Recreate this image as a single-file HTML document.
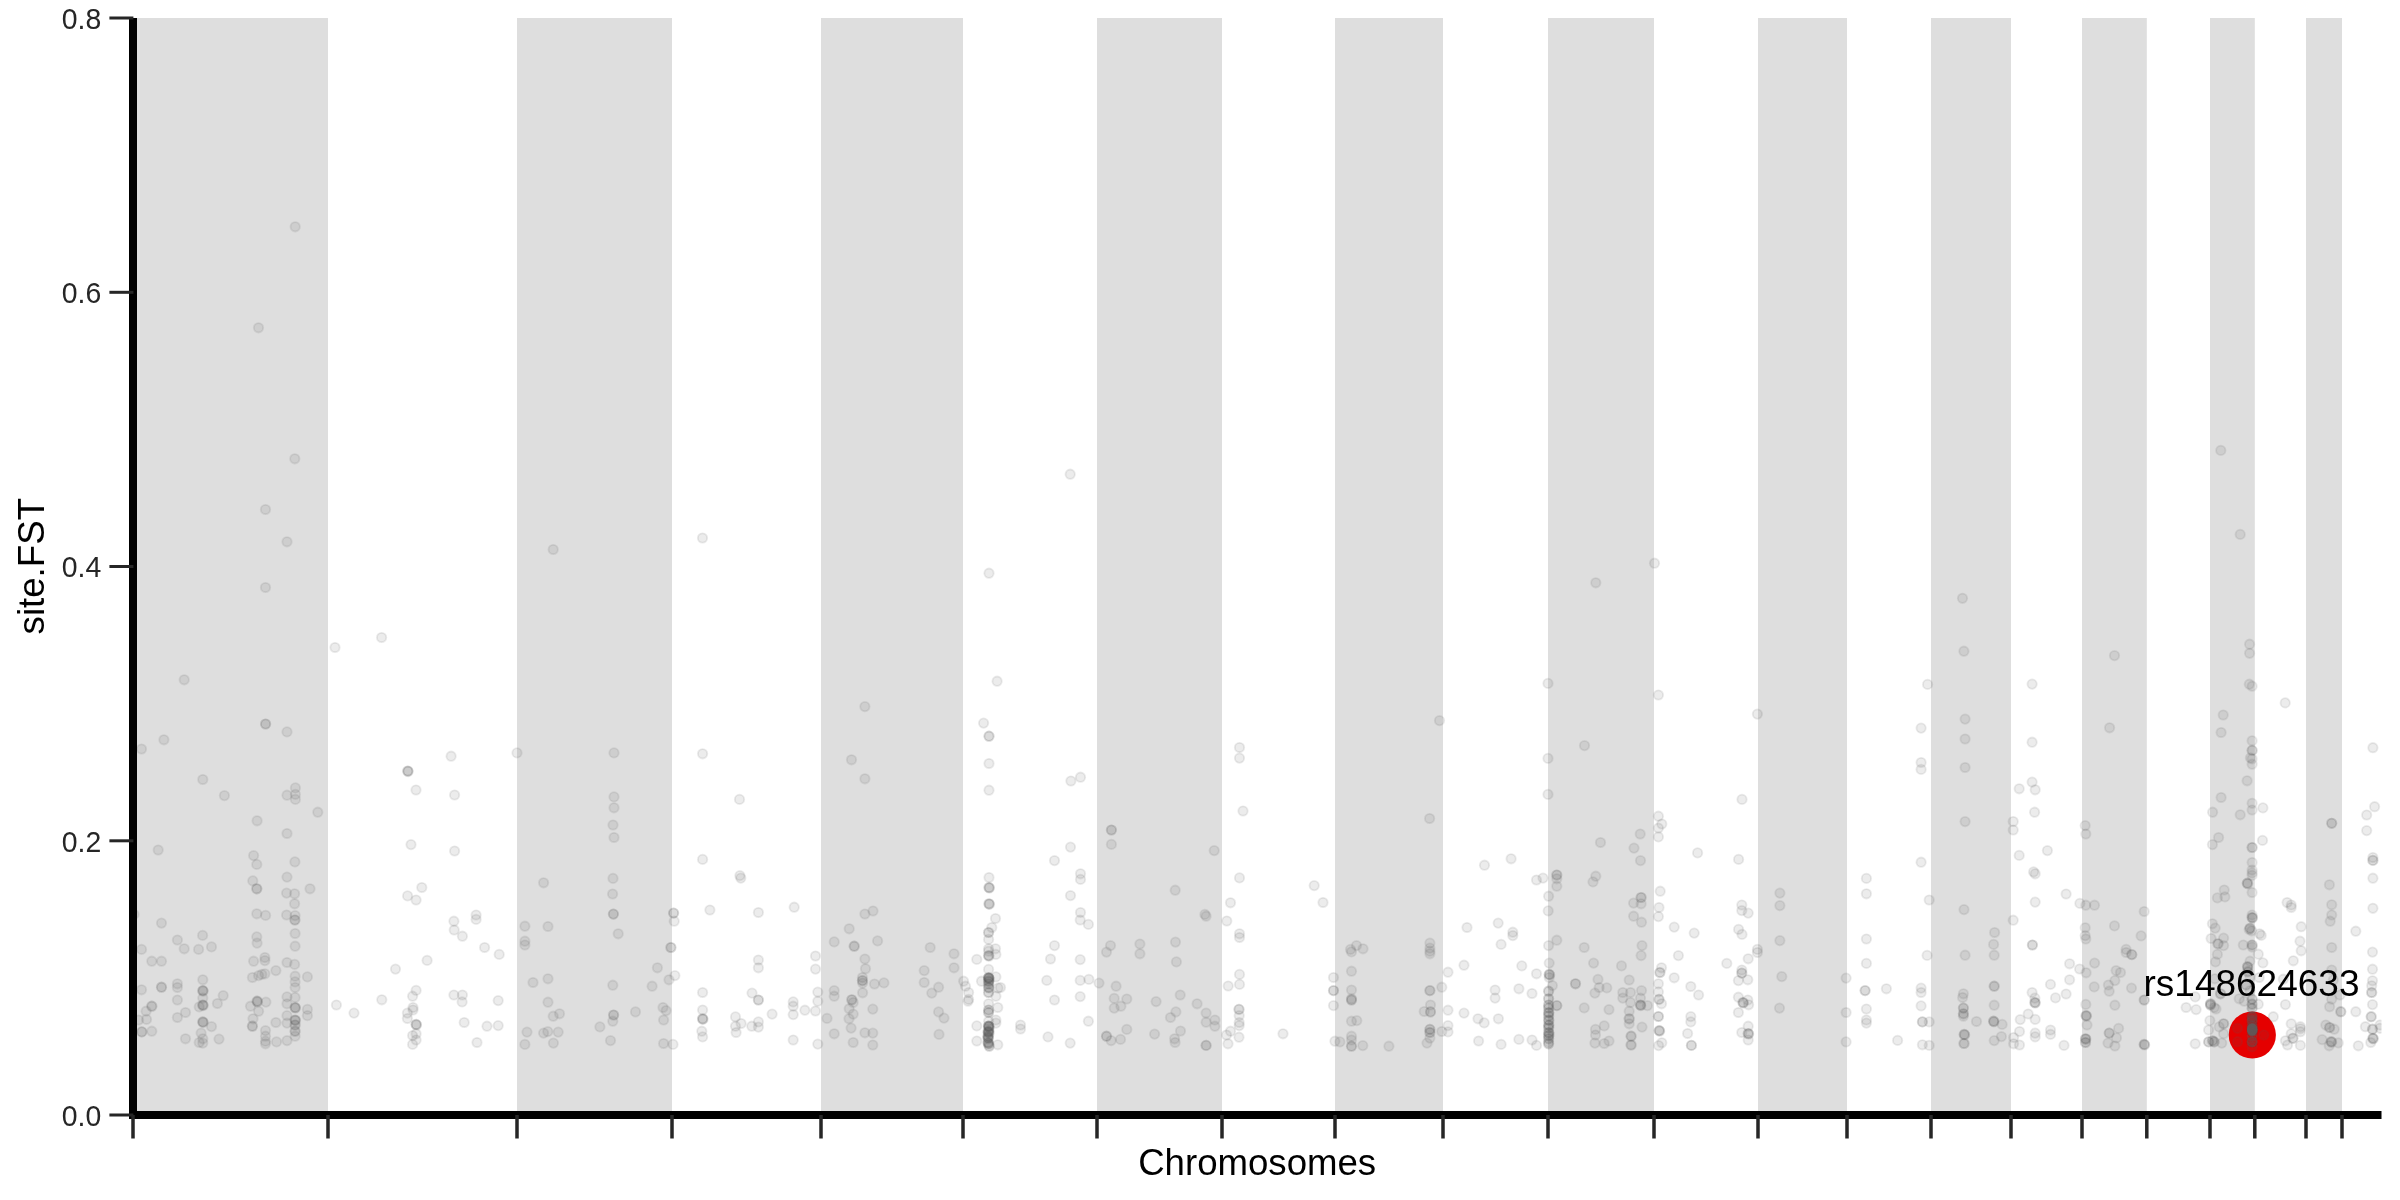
<!DOCTYPE html>
<html><head><meta charset="utf-8"><style>
html,body{margin:0;padding:0;background:#fff;width:2400px;height:1200px;overflow:hidden}
svg{display:block;font-family:"Liberation Sans",sans-serif;will-change:transform}
</style></head><body>
<svg width="2400" height="1200" viewBox="0 0 2400 1200">
<rect x="0" y="0" width="2400" height="1200" fill="#fff"/>
<rect x="133" y="18" width="195.0" height="1097" fill="#dedede"/>
<rect x="517" y="18" width="155.0" height="1097" fill="#dedede"/>
<rect x="821" y="18" width="142.0" height="1097" fill="#dedede"/>
<rect x="1097" y="18" width="125.0" height="1097" fill="#dedede"/>
<rect x="1335" y="18" width="108.0" height="1097" fill="#dedede"/>
<rect x="1548" y="18" width="106.0" height="1097" fill="#dedede"/>
<rect x="1758" y="18" width="89.0" height="1097" fill="#dedede"/>
<rect x="1931" y="18" width="80.0" height="1097" fill="#dedede"/>
<rect x="2082" y="18" width="64.8" height="1097" fill="#dedede"/>
<rect x="2210" y="18" width="44.8" height="1097" fill="#dedede"/>
<rect x="2306" y="18" width="36.0" height="1097" fill="#dedede"/>
<circle cx="2252.3" cy="1035" r="23.6" fill="#e50000"/>
<clipPath id="c"><rect x="129" y="0" width="2252.5" height="1200"/></clipPath>
<g clip-path="url(#c)" fill="rgba(90,90,90,0.115)" stroke="rgba(90,90,90,0.12)" stroke-width="1.8"><circle cx="295.2" cy="226.8" r="4.7"/><circle cx="258.5" cy="327.8" r="4.7"/><circle cx="294.8" cy="458.8" r="4.7"/><circle cx="265.5" cy="509.5" r="4.7"/><circle cx="287.0" cy="541.8" r="4.7"/><circle cx="265.5" cy="587.5" r="4.7"/><circle cx="335.0" cy="647.5" r="4.7"/><circle cx="381.6" cy="637.5" r="4.7"/><circle cx="553.2" cy="549.5" r="4.7"/><circle cx="702.5" cy="538.0" r="4.7"/><circle cx="1070.2" cy="474.2" r="4.7"/><circle cx="989.0" cy="573.2" r="4.7"/><circle cx="1595.8" cy="582.8" r="4.7"/><circle cx="1654.5" cy="563.2" r="4.7"/><circle cx="2220.8" cy="450.4" r="4.7"/><circle cx="2240.2" cy="534.4" r="4.7"/><circle cx="1962.5" cy="598.3" r="4.7"/><circle cx="184.2" cy="679.8" r="4.7"/><circle cx="265.6" cy="724.0" r="4.7"/><circle cx="265.6" cy="724.0" r="4.7"/><circle cx="287.0" cy="731.9" r="4.7"/><circle cx="163.9" cy="739.8" r="4.7"/><circle cx="141.5" cy="749.0" r="4.7"/><circle cx="202.8" cy="779.5" r="4.7"/><circle cx="224.4" cy="795.6" r="4.7"/><circle cx="295.4" cy="787.9" r="4.7"/><circle cx="287.0" cy="795.2" r="4.7"/><circle cx="295.4" cy="794.4" r="4.7"/><circle cx="295.4" cy="799.4" r="4.7"/><circle cx="407.8" cy="771.0" r="4.7"/><circle cx="407.8" cy="771.0" r="4.7"/><circle cx="408.1" cy="771.6" r="4.7"/><circle cx="416.0" cy="790.0" r="4.7"/><circle cx="317.8" cy="812.2" r="4.7"/><circle cx="257.1" cy="820.8" r="4.7"/><circle cx="287.0" cy="833.5" r="4.7"/><circle cx="158.2" cy="850.0" r="4.7"/><circle cx="253.6" cy="855.6" r="4.7"/><circle cx="256.8" cy="864.4" r="4.7"/><circle cx="294.9" cy="861.9" r="4.7"/><circle cx="287.0" cy="877.1" r="4.7"/><circle cx="252.8" cy="880.9" r="4.7"/><circle cx="256.8" cy="888.8" r="4.7"/><circle cx="256.8" cy="888.8" r="4.7"/><circle cx="286.6" cy="893.1" r="4.7"/><circle cx="294.6" cy="893.8" r="4.7"/><circle cx="310.0" cy="888.8" r="4.7"/><circle cx="294.6" cy="903.8" r="4.7"/><circle cx="256.8" cy="913.8" r="4.7"/><circle cx="265.6" cy="915.4" r="4.7"/><circle cx="286.6" cy="915.0" r="4.7"/><circle cx="295.1" cy="915.6" r="4.7"/><circle cx="294.9" cy="920.0" r="4.7"/><circle cx="294.9" cy="920.0" r="4.7"/><circle cx="295.1" cy="933.5" r="4.7"/><circle cx="256.8" cy="936.9" r="4.7"/><circle cx="257.1" cy="943.1" r="4.7"/><circle cx="295.1" cy="946.2" r="4.7"/><circle cx="161.5" cy="923.1" r="4.7"/><circle cx="177.4" cy="940.0" r="4.7"/><circle cx="202.6" cy="935.4" r="4.7"/><circle cx="184.2" cy="948.8" r="4.7"/><circle cx="198.6" cy="949.4" r="4.7"/><circle cx="211.5" cy="946.9" r="4.7"/><circle cx="141.5" cy="949.4" r="4.7"/><circle cx="134.0" cy="914.4" r="4.7"/><circle cx="411.0" cy="844.6" r="4.7"/><circle cx="421.8" cy="887.5" r="4.7"/><circle cx="407.6" cy="895.9" r="4.7"/><circle cx="416.1" cy="900.0" r="4.7"/><circle cx="151.8" cy="961.2" r="4.7"/><circle cx="161.5" cy="961.2" r="4.7"/><circle cx="253.6" cy="961.2" r="4.7"/><circle cx="264.9" cy="957.5" r="4.7"/><circle cx="264.9" cy="960.6" r="4.7"/><circle cx="287.0" cy="962.5" r="4.7"/><circle cx="294.6" cy="964.4" r="4.7"/><circle cx="275.9" cy="970.6" r="4.7"/><circle cx="252.4" cy="977.5" r="4.7"/><circle cx="258.6" cy="975.6" r="4.7"/><circle cx="261.8" cy="974.4" r="4.7"/><circle cx="264.9" cy="973.8" r="4.7"/><circle cx="295.1" cy="976.2" r="4.7"/><circle cx="295.1" cy="981.9" r="4.7"/><circle cx="295.1" cy="987.5" r="4.7"/><circle cx="307.4" cy="976.9" r="4.7"/><circle cx="202.8" cy="979.8" r="4.7"/><circle cx="177.4" cy="983.8" r="4.7"/><circle cx="177.4" cy="987.5" r="4.7"/><circle cx="161.5" cy="987.2" r="4.7"/><circle cx="161.5" cy="987.2" r="4.7"/><circle cx="141.5" cy="989.8" r="4.7"/><circle cx="202.8" cy="990.6" r="4.7"/><circle cx="202.8" cy="990.6" r="4.7"/><circle cx="203.2" cy="991.2" r="4.7"/><circle cx="202.8" cy="998.1" r="4.7"/><circle cx="223.2" cy="995.6" r="4.7"/><circle cx="217.4" cy="1003.5" r="4.7"/><circle cx="177.4" cy="1000.0" r="4.7"/><circle cx="151.8" cy="1006.2" r="4.7"/><circle cx="151.8" cy="1006.2" r="4.7"/><circle cx="146.1" cy="1011.2" r="4.7"/><circle cx="146.5" cy="1019.4" r="4.7"/><circle cx="138.6" cy="1020.0" r="4.7"/><circle cx="141.8" cy="1031.9" r="4.7"/><circle cx="141.8" cy="1031.9" r="4.7"/><circle cx="151.8" cy="1031.2" r="4.7"/><circle cx="185.5" cy="1012.5" r="4.7"/><circle cx="177.4" cy="1017.5" r="4.7"/><circle cx="199.2" cy="1006.9" r="4.7"/><circle cx="202.8" cy="1005.0" r="4.7"/><circle cx="202.8" cy="1005.0" r="4.7"/><circle cx="203.2" cy="1005.6" r="4.7"/><circle cx="202.8" cy="1021.9" r="4.7"/><circle cx="202.8" cy="1021.9" r="4.7"/><circle cx="203.2" cy="1022.5" r="4.7"/><circle cx="211.5" cy="1026.6" r="4.7"/><circle cx="201.1" cy="1033.1" r="4.7"/><circle cx="202.8" cy="1038.8" r="4.7"/><circle cx="199.2" cy="1042.5" r="4.7"/><circle cx="202.8" cy="1043.1" r="4.7"/><circle cx="185.5" cy="1038.8" r="4.7"/><circle cx="219.0" cy="1039.1" r="4.7"/><circle cx="257.1" cy="1001.2" r="4.7"/><circle cx="257.1" cy="1001.2" r="4.7"/><circle cx="257.5" cy="1001.9" r="4.7"/><circle cx="250.5" cy="1006.2" r="4.7"/><circle cx="265.9" cy="1002.1" r="4.7"/><circle cx="258.6" cy="1011.2" r="4.7"/><circle cx="253.0" cy="1018.8" r="4.7"/><circle cx="252.4" cy="1026.2" r="4.7"/><circle cx="252.4" cy="1026.2" r="4.7"/><circle cx="275.9" cy="1022.5" r="4.7"/><circle cx="265.5" cy="1030.6" r="4.7"/><circle cx="265.5" cy="1036.2" r="4.7"/><circle cx="265.5" cy="1041.2" r="4.7"/><circle cx="265.5" cy="1043.8" r="4.7"/><circle cx="276.5" cy="1041.9" r="4.7"/><circle cx="287.0" cy="1040.6" r="4.7"/><circle cx="287.0" cy="996.9" r="4.7"/><circle cx="287.0" cy="1003.8" r="4.7"/><circle cx="287.0" cy="1015.6" r="4.7"/><circle cx="287.0" cy="1023.1" r="4.7"/><circle cx="295.1" cy="997.5" r="4.7"/><circle cx="295.1" cy="1007.5" r="4.7"/><circle cx="295.1" cy="1007.5" r="4.7"/><circle cx="295.5" cy="1008.1" r="4.7"/><circle cx="295.1" cy="1020.0" r="4.7"/><circle cx="295.1" cy="1020.0" r="4.7"/><circle cx="295.5" cy="1020.6" r="4.7"/><circle cx="295.1" cy="1025.0" r="4.7"/><circle cx="295.1" cy="1025.0" r="4.7"/><circle cx="295.1" cy="1031.2" r="4.7"/><circle cx="295.1" cy="1031.2" r="4.7"/><circle cx="295.1" cy="1036.2" r="4.7"/><circle cx="307.4" cy="1009.4" r="4.7"/><circle cx="307.4" cy="1015.6" r="4.7"/><circle cx="427.1" cy="960.4" r="4.7"/><circle cx="395.5" cy="969.1" r="4.7"/><circle cx="381.8" cy="999.8" r="4.7"/><circle cx="336.4" cy="1005.0" r="4.7"/><circle cx="354.0" cy="1013.1" r="4.7"/><circle cx="416.1" cy="990.4" r="4.7"/><circle cx="412.6" cy="996.2" r="4.7"/><circle cx="413.0" cy="1007.5" r="4.7"/><circle cx="413.0" cy="1010.0" r="4.7"/><circle cx="407.4" cy="1013.1" r="4.7"/><circle cx="407.4" cy="1018.5" r="4.7"/><circle cx="416.1" cy="1024.4" r="4.7"/><circle cx="416.1" cy="1024.4" r="4.7"/><circle cx="416.5" cy="1025.0" r="4.7"/><circle cx="412.6" cy="1035.6" r="4.7"/><circle cx="416.1" cy="1033.8" r="4.7"/><circle cx="416.1" cy="1040.0" r="4.7"/><circle cx="412.6" cy="1044.4" r="4.7"/><circle cx="451.1" cy="756.2" r="4.7"/><circle cx="517.0" cy="752.9" r="4.7"/><circle cx="614.0" cy="752.9" r="4.7"/><circle cx="702.6" cy="753.8" r="4.7"/><circle cx="454.6" cy="795.0" r="4.7"/><circle cx="614.0" cy="796.9" r="4.7"/><circle cx="614.0" cy="807.8" r="4.7"/><circle cx="613.0" cy="825.0" r="4.7"/><circle cx="614.0" cy="837.5" r="4.7"/><circle cx="454.6" cy="851.0" r="4.7"/><circle cx="702.6" cy="859.4" r="4.7"/><circle cx="543.6" cy="882.8" r="4.7"/><circle cx="613.0" cy="878.4" r="4.7"/><circle cx="612.6" cy="894.0" r="4.7"/><circle cx="613.4" cy="914.1" r="4.7"/><circle cx="613.4" cy="914.1" r="4.7"/><circle cx="453.9" cy="921.2" r="4.7"/><circle cx="476.1" cy="915.0" r="4.7"/><circle cx="476.1" cy="919.4" r="4.7"/><circle cx="454.2" cy="930.0" r="4.7"/><circle cx="462.4" cy="936.2" r="4.7"/><circle cx="484.6" cy="947.5" r="4.7"/><circle cx="524.9" cy="926.2" r="4.7"/><circle cx="548.0" cy="926.5" r="4.7"/><circle cx="524.9" cy="941.2" r="4.7"/><circle cx="524.9" cy="945.0" r="4.7"/><circle cx="618.2" cy="933.8" r="4.7"/><circle cx="673.6" cy="913.1" r="4.7"/><circle cx="673.6" cy="913.1" r="4.7"/><circle cx="674.2" cy="921.2" r="4.7"/><circle cx="709.9" cy="910.0" r="4.7"/><circle cx="670.9" cy="947.5" r="4.7"/><circle cx="670.9" cy="947.5" r="4.7"/><circle cx="499.2" cy="954.4" r="4.7"/><circle cx="657.4" cy="967.8" r="4.7"/><circle cx="674.9" cy="975.6" r="4.7"/><circle cx="669.0" cy="979.8" r="4.7"/><circle cx="652.1" cy="986.2" r="4.7"/><circle cx="612.8" cy="985.2" r="4.7"/><circle cx="548.0" cy="978.8" r="4.7"/><circle cx="533.0" cy="982.5" r="4.7"/><circle cx="453.9" cy="995.0" r="4.7"/><circle cx="462.4" cy="995.0" r="4.7"/><circle cx="462.1" cy="1001.9" r="4.7"/><circle cx="498.2" cy="1000.6" r="4.7"/><circle cx="548.0" cy="1002.2" r="4.7"/><circle cx="559.5" cy="1013.8" r="4.7"/><circle cx="553.2" cy="1016.2" r="4.7"/><circle cx="613.6" cy="1015.0" r="4.7"/><circle cx="613.6" cy="1015.0" r="4.7"/><circle cx="612.8" cy="1021.2" r="4.7"/><circle cx="635.5" cy="1011.9" r="4.7"/><circle cx="663.0" cy="1007.5" r="4.7"/><circle cx="666.1" cy="1010.6" r="4.7"/><circle cx="663.6" cy="1020.0" r="4.7"/><circle cx="702.6" cy="992.5" r="4.7"/><circle cx="702.6" cy="1010.0" r="4.7"/><circle cx="702.6" cy="1018.8" r="4.7"/><circle cx="702.6" cy="1018.8" r="4.7"/><circle cx="703.0" cy="1019.4" r="4.7"/><circle cx="701.8" cy="1031.2" r="4.7"/><circle cx="702.6" cy="1036.9" r="4.7"/><circle cx="464.2" cy="1022.5" r="4.7"/><circle cx="487.0" cy="1026.2" r="4.7"/><circle cx="498.2" cy="1025.6" r="4.7"/><circle cx="477.0" cy="1042.5" r="4.7"/><circle cx="527.0" cy="1032.1" r="4.7"/><circle cx="543.6" cy="1033.1" r="4.7"/><circle cx="547.8" cy="1031.6" r="4.7"/><circle cx="558.2" cy="1032.1" r="4.7"/><circle cx="524.9" cy="1044.4" r="4.7"/><circle cx="553.4" cy="1043.1" r="4.7"/><circle cx="599.9" cy="1026.9" r="4.7"/><circle cx="610.5" cy="1040.6" r="4.7"/><circle cx="663.6" cy="1043.5" r="4.7"/><circle cx="673.0" cy="1044.4" r="4.7"/><circle cx="997.1" cy="681.2" r="4.7"/><circle cx="864.9" cy="706.6" r="4.7"/><circle cx="983.6" cy="723.1" r="4.7"/><circle cx="989.0" cy="736.2" r="4.7"/><circle cx="989.0" cy="736.2" r="4.7"/><circle cx="851.5" cy="759.8" r="4.7"/><circle cx="864.9" cy="778.8" r="4.7"/><circle cx="989.0" cy="763.5" r="4.7"/><circle cx="989.0" cy="790.2" r="4.7"/><circle cx="739.5" cy="799.4" r="4.7"/><circle cx="739.9" cy="875.6" r="4.7"/><circle cx="740.8" cy="878.1" r="4.7"/><circle cx="758.4" cy="912.5" r="4.7"/><circle cx="794.2" cy="907.2" r="4.7"/><circle cx="864.9" cy="914.0" r="4.7"/><circle cx="873.0" cy="911.0" r="4.7"/><circle cx="849.2" cy="928.8" r="4.7"/><circle cx="834.2" cy="941.9" r="4.7"/><circle cx="854.2" cy="946.2" r="4.7"/><circle cx="854.2" cy="946.2" r="4.7"/><circle cx="877.6" cy="940.9" r="4.7"/><circle cx="930.2" cy="947.5" r="4.7"/><circle cx="989.0" cy="877.5" r="4.7"/><circle cx="989.0" cy="887.5" r="4.7"/><circle cx="989.0" cy="887.5" r="4.7"/><circle cx="989.4" cy="888.1" r="4.7"/><circle cx="989.0" cy="903.8" r="4.7"/><circle cx="989.0" cy="903.8" r="4.7"/><circle cx="989.4" cy="904.4" r="4.7"/><circle cx="995.5" cy="918.5" r="4.7"/><circle cx="991.8" cy="927.5" r="4.7"/><circle cx="988.6" cy="932.5" r="4.7"/><circle cx="988.6" cy="932.5" r="4.7"/><circle cx="988.6" cy="939.4" r="4.7"/><circle cx="988.6" cy="948.8" r="4.7"/><circle cx="995.5" cy="948.8" r="4.7"/><circle cx="954.0" cy="953.8" r="4.7"/><circle cx="954.0" cy="967.8" r="4.7"/><circle cx="864.9" cy="959.0" r="4.7"/><circle cx="865.5" cy="968.8" r="4.7"/><circle cx="862.4" cy="977.5" r="4.7"/><circle cx="862.4" cy="980.6" r="4.7"/><circle cx="862.4" cy="980.6" r="4.7"/><circle cx="862.6" cy="983.1" r="4.7"/><circle cx="874.5" cy="984.0" r="4.7"/><circle cx="883.9" cy="982.9" r="4.7"/><circle cx="862.6" cy="992.8" r="4.7"/><circle cx="924.2" cy="970.6" r="4.7"/><circle cx="924.2" cy="982.5" r="4.7"/><circle cx="938.6" cy="987.2" r="4.7"/><circle cx="931.8" cy="993.1" r="4.7"/><circle cx="834.2" cy="990.6" r="4.7"/><circle cx="834.2" cy="996.2" r="4.7"/><circle cx="851.8" cy="999.8" r="4.7"/><circle cx="851.8" cy="999.8" r="4.7"/><circle cx="853.2" cy="1002.5" r="4.7"/><circle cx="849.2" cy="1008.8" r="4.7"/><circle cx="853.2" cy="1014.1" r="4.7"/><circle cx="849.0" cy="1018.8" r="4.7"/><circle cx="827.0" cy="1018.4" r="4.7"/><circle cx="851.1" cy="1028.1" r="4.7"/><circle cx="834.2" cy="1033.8" r="4.7"/><circle cx="853.2" cy="1042.5" r="4.7"/><circle cx="864.9" cy="1032.8" r="4.7"/><circle cx="872.8" cy="1033.1" r="4.7"/><circle cx="872.8" cy="1045.0" r="4.7"/><circle cx="872.8" cy="1009.1" r="4.7"/><circle cx="938.6" cy="1011.9" r="4.7"/><circle cx="944.0" cy="1018.1" r="4.7"/><circle cx="939.0" cy="1034.4" r="4.7"/><circle cx="758.4" cy="960.0" r="4.7"/><circle cx="758.4" cy="967.8" r="4.7"/><circle cx="815.5" cy="956.0" r="4.7"/><circle cx="815.5" cy="969.1" r="4.7"/><circle cx="752.0" cy="993.1" r="4.7"/><circle cx="758.4" cy="1000.0" r="4.7"/><circle cx="758.4" cy="1000.0" r="4.7"/><circle cx="793.2" cy="1001.9" r="4.7"/><circle cx="793.2" cy="1006.2" r="4.7"/><circle cx="793.2" cy="1014.6" r="4.7"/><circle cx="804.9" cy="1010.2" r="4.7"/><circle cx="815.5" cy="1011.0" r="4.7"/><circle cx="817.8" cy="992.1" r="4.7"/><circle cx="817.8" cy="1001.2" r="4.7"/><circle cx="772.1" cy="1014.1" r="4.7"/><circle cx="735.5" cy="1016.9" r="4.7"/><circle cx="741.1" cy="1023.5" r="4.7"/><circle cx="735.5" cy="1026.2" r="4.7"/><circle cx="736.1" cy="1032.5" r="4.7"/><circle cx="751.8" cy="1026.2" r="4.7"/><circle cx="758.4" cy="1021.9" r="4.7"/><circle cx="758.4" cy="1027.1" r="4.7"/><circle cx="793.2" cy="1040.0" r="4.7"/><circle cx="817.8" cy="1044.1" r="4.7"/><circle cx="988.6" cy="951.2" r="4.7"/><circle cx="988.6" cy="955.6" r="4.7"/><circle cx="988.6" cy="955.6" r="4.7"/><circle cx="989.0" cy="956.2" r="4.7"/><circle cx="995.9" cy="954.4" r="4.7"/><circle cx="976.8" cy="959.4" r="4.7"/><circle cx="988.6" cy="969.4" r="4.7"/><circle cx="988.6" cy="977.5" r="4.7"/><circle cx="988.6" cy="977.5" r="4.7"/><circle cx="989.0" cy="978.1" r="4.7"/><circle cx="989.1" cy="979.7" r="4.7"/><circle cx="988.6" cy="981.2" r="4.7"/><circle cx="988.6" cy="981.2" r="4.7"/><circle cx="989.0" cy="981.9" r="4.7"/><circle cx="995.9" cy="976.9" r="4.7"/><circle cx="981.5" cy="981.2" r="4.7"/><circle cx="988.6" cy="987.5" r="4.7"/><circle cx="988.6" cy="987.5" r="4.7"/><circle cx="989.0" cy="988.1" r="4.7"/><circle cx="988.6" cy="992.5" r="4.7"/><circle cx="988.6" cy="992.5" r="4.7"/><circle cx="998.0" cy="988.1" r="4.7"/><circle cx="1000.5" cy="987.5" r="4.7"/><circle cx="995.9" cy="996.2" r="4.7"/><circle cx="963.6" cy="981.2" r="4.7"/><circle cx="965.5" cy="986.2" r="4.7"/><circle cx="968.6" cy="992.5" r="4.7"/><circle cx="968.6" cy="999.4" r="4.7"/><circle cx="968.0" cy="1001.2" r="4.7"/><circle cx="988.6" cy="1003.8" r="4.7"/><circle cx="988.6" cy="1010.0" r="4.7"/><circle cx="988.6" cy="1010.0" r="4.7"/><circle cx="988.6" cy="1012.5" r="4.7"/><circle cx="988.6" cy="1012.5" r="4.7"/><circle cx="997.8" cy="1007.5" r="4.7"/><circle cx="988.6" cy="1021.2" r="4.7"/><circle cx="995.9" cy="1020.0" r="4.7"/><circle cx="995.9" cy="1023.1" r="4.7"/><circle cx="988.6" cy="1026.2" r="4.7"/><circle cx="988.6" cy="1026.2" r="4.7"/><circle cx="989.0" cy="1026.8" r="4.7"/><circle cx="989.1" cy="1028.5" r="4.7"/><circle cx="988.6" cy="1031.2" r="4.7"/><circle cx="988.6" cy="1031.2" r="4.7"/><circle cx="989.0" cy="1031.8" r="4.7"/><circle cx="989.1" cy="1033.5" r="4.7"/><circle cx="988.0" cy="1036.2" r="4.7"/><circle cx="988.0" cy="1036.2" r="4.7"/><circle cx="988.4" cy="1036.8" r="4.7"/><circle cx="988.0" cy="1042.5" r="4.7"/><circle cx="988.0" cy="1042.5" r="4.7"/><circle cx="988.4" cy="1043.1" r="4.7"/><circle cx="989.2" cy="1046.2" r="4.7"/><circle cx="989.2" cy="1046.2" r="4.7"/><circle cx="976.8" cy="1025.9" r="4.7"/><circle cx="976.8" cy="1041.0" r="4.7"/><circle cx="997.8" cy="1044.8" r="4.7"/><circle cx="1020.5" cy="1025.0" r="4.7"/><circle cx="1020.5" cy="1029.0" r="4.7"/><circle cx="1070.9" cy="781.0" r="4.7"/><circle cx="1080.5" cy="777.2" r="4.7"/><circle cx="1239.5" cy="747.5" r="4.7"/><circle cx="1239.5" cy="758.1" r="4.7"/><circle cx="1243.0" cy="811.0" r="4.7"/><circle cx="1111.4" cy="830.0" r="4.7"/><circle cx="1111.4" cy="830.0" r="4.7"/><circle cx="1111.4" cy="844.4" r="4.7"/><circle cx="1070.5" cy="847.1" r="4.7"/><circle cx="1054.5" cy="860.6" r="4.7"/><circle cx="1080.5" cy="873.8" r="4.7"/><circle cx="1080.5" cy="879.4" r="4.7"/><circle cx="1214.2" cy="850.6" r="4.7"/><circle cx="1239.5" cy="877.9" r="4.7"/><circle cx="1314.2" cy="885.6" r="4.7"/><circle cx="1323.0" cy="902.5" r="4.7"/><circle cx="1230.5" cy="902.8" r="4.7"/><circle cx="1175.2" cy="890.2" r="4.7"/><circle cx="1070.5" cy="895.6" r="4.7"/><circle cx="1080.5" cy="912.5" r="4.7"/><circle cx="1080.2" cy="920.0" r="4.7"/><circle cx="1088.4" cy="924.4" r="4.7"/><circle cx="1204.9" cy="914.4" r="4.7"/><circle cx="1206.1" cy="916.2" r="4.7"/><circle cx="1226.8" cy="921.0" r="4.7"/><circle cx="1239.5" cy="933.8" r="4.7"/><circle cx="1239.5" cy="937.5" r="4.7"/><circle cx="1054.5" cy="945.6" r="4.7"/><circle cx="1110.5" cy="945.6" r="4.7"/><circle cx="1139.9" cy="944.0" r="4.7"/><circle cx="1175.5" cy="942.1" r="4.7"/><circle cx="1106.5" cy="952.1" r="4.7"/><circle cx="1139.9" cy="953.8" r="4.7"/><circle cx="1176.4" cy="961.9" r="4.7"/><circle cx="1050.5" cy="959.0" r="4.7"/><circle cx="1080.2" cy="959.6" r="4.7"/><circle cx="1046.8" cy="980.4" r="4.7"/><circle cx="1080.2" cy="980.4" r="4.7"/><circle cx="1088.9" cy="979.4" r="4.7"/><circle cx="1099.0" cy="983.1" r="4.7"/><circle cx="1116.1" cy="986.2" r="4.7"/><circle cx="1114.2" cy="998.4" r="4.7"/><circle cx="1126.8" cy="999.0" r="4.7"/><circle cx="1114.2" cy="1008.1" r="4.7"/><circle cx="1120.9" cy="1006.2" r="4.7"/><circle cx="1156.1" cy="1001.6" r="4.7"/><circle cx="1180.2" cy="995.0" r="4.7"/><circle cx="1197.1" cy="1003.8" r="4.7"/><circle cx="1175.9" cy="1011.9" r="4.7"/><circle cx="1170.5" cy="1017.5" r="4.7"/><circle cx="1206.1" cy="1013.1" r="4.7"/><circle cx="1206.1" cy="1022.2" r="4.7"/><circle cx="1214.9" cy="1020.0" r="4.7"/><circle cx="1214.9" cy="1026.2" r="4.7"/><circle cx="1054.5" cy="1000.0" r="4.7"/><circle cx="1080.2" cy="996.6" r="4.7"/><circle cx="1088.4" cy="1021.2" r="4.7"/><circle cx="1048.0" cy="1036.9" r="4.7"/><circle cx="1070.2" cy="1043.1" r="4.7"/><circle cx="1106.5" cy="1036.2" r="4.7"/><circle cx="1106.5" cy="1036.2" r="4.7"/><circle cx="1111.1" cy="1040.6" r="4.7"/><circle cx="1120.5" cy="1039.4" r="4.7"/><circle cx="1126.8" cy="1029.4" r="4.7"/><circle cx="1154.6" cy="1034.1" r="4.7"/><circle cx="1180.5" cy="1031.0" r="4.7"/><circle cx="1174.6" cy="1038.8" r="4.7"/><circle cx="1175.1" cy="1042.5" r="4.7"/><circle cx="1206.1" cy="1045.4" r="4.7"/><circle cx="1206.1" cy="1045.4" r="4.7"/><circle cx="1239.5" cy="974.4" r="4.7"/><circle cx="1239.5" cy="984.4" r="4.7"/><circle cx="1228.2" cy="986.0" r="4.7"/><circle cx="1239.0" cy="1009.4" r="4.7"/><circle cx="1239.0" cy="1009.4" r="4.7"/><circle cx="1239.2" cy="1015.6" r="4.7"/><circle cx="1239.2" cy="1022.5" r="4.7"/><circle cx="1239.2" cy="1025.6" r="4.7"/><circle cx="1230.5" cy="1031.2" r="4.7"/><circle cx="1226.5" cy="1035.0" r="4.7"/><circle cx="1239.0" cy="1037.2" r="4.7"/><circle cx="1228.0" cy="1043.8" r="4.7"/><circle cx="1283.0" cy="1033.8" r="4.7"/><circle cx="1439.5" cy="720.6" r="4.7"/><circle cx="1548.0" cy="683.4" r="4.7"/><circle cx="1548.0" cy="758.4" r="4.7"/><circle cx="1548.0" cy="794.4" r="4.7"/><circle cx="1584.5" cy="745.6" r="4.7"/><circle cx="1429.6" cy="818.5" r="4.7"/><circle cx="1484.5" cy="865.2" r="4.7"/><circle cx="1511.1" cy="858.8" r="4.7"/><circle cx="1536.5" cy="880.0" r="4.7"/><circle cx="1543.0" cy="878.1" r="4.7"/><circle cx="1556.8" cy="875.0" r="4.7"/><circle cx="1556.8" cy="875.0" r="4.7"/><circle cx="1556.8" cy="878.8" r="4.7"/><circle cx="1556.8" cy="886.2" r="4.7"/><circle cx="1548.6" cy="896.2" r="4.7"/><circle cx="1548.2" cy="910.9" r="4.7"/><circle cx="1600.5" cy="842.5" r="4.7"/><circle cx="1634.0" cy="848.1" r="4.7"/><circle cx="1595.8" cy="876.2" r="4.7"/><circle cx="1593.0" cy="881.9" r="4.7"/><circle cx="1633.6" cy="903.1" r="4.7"/><circle cx="1633.6" cy="916.2" r="4.7"/><circle cx="1467.0" cy="927.5" r="4.7"/><circle cx="1498.2" cy="923.1" r="4.7"/><circle cx="1512.8" cy="932.2" r="4.7"/><circle cx="1512.8" cy="935.6" r="4.7"/><circle cx="1501.1" cy="944.4" r="4.7"/><circle cx="1556.8" cy="940.2" r="4.7"/><circle cx="1548.6" cy="945.6" r="4.7"/><circle cx="1584.2" cy="947.5" r="4.7"/><circle cx="1356.5" cy="945.6" r="4.7"/><circle cx="1363.0" cy="948.8" r="4.7"/><circle cx="1350.5" cy="949.4" r="4.7"/><circle cx="1429.9" cy="943.1" r="4.7"/><circle cx="1429.9" cy="948.1" r="4.7"/><circle cx="1351.5" cy="951.9" r="4.7"/><circle cx="1351.5" cy="971.2" r="4.7"/><circle cx="1333.5" cy="977.5" r="4.7"/><circle cx="1333.5" cy="990.6" r="4.7"/><circle cx="1333.5" cy="990.6" r="4.7"/><circle cx="1333.5" cy="1005.6" r="4.7"/><circle cx="1351.5" cy="990.0" r="4.7"/><circle cx="1351.5" cy="998.8" r="4.7"/><circle cx="1351.5" cy="1000.0" r="4.7"/><circle cx="1351.5" cy="1000.0" r="4.7"/><circle cx="1351.5" cy="1021.2" r="4.7"/><circle cx="1356.8" cy="1020.6" r="4.7"/><circle cx="1351.5" cy="1036.2" r="4.7"/><circle cx="1351.5" cy="1040.0" r="4.7"/><circle cx="1351.5" cy="1046.2" r="4.7"/><circle cx="1351.5" cy="1046.2" r="4.7"/><circle cx="1339.9" cy="1041.9" r="4.7"/><circle cx="1334.9" cy="1041.2" r="4.7"/><circle cx="1362.8" cy="1045.6" r="4.7"/><circle cx="1388.9" cy="1046.2" r="4.7"/><circle cx="1429.9" cy="951.2" r="4.7"/><circle cx="1429.9" cy="953.8" r="4.7"/><circle cx="1429.9" cy="990.6" r="4.7"/><circle cx="1429.9" cy="990.6" r="4.7"/><circle cx="1430.5" cy="1005.0" r="4.7"/><circle cx="1430.5" cy="1011.9" r="4.7"/><circle cx="1430.5" cy="1011.9" r="4.7"/><circle cx="1424.2" cy="1011.5" r="4.7"/><circle cx="1429.9" cy="1029.4" r="4.7"/><circle cx="1429.9" cy="1029.4" r="4.7"/><circle cx="1429.9" cy="1032.5" r="4.7"/><circle cx="1429.9" cy="1032.5" r="4.7"/><circle cx="1429.9" cy="1038.1" r="4.7"/><circle cx="1427.0" cy="1043.1" r="4.7"/><circle cx="1441.8" cy="987.2" r="4.7"/><circle cx="1441.8" cy="1031.5" r="4.7"/><circle cx="1448.0" cy="972.2" r="4.7"/><circle cx="1464.0" cy="965.2" r="4.7"/><circle cx="1448.0" cy="1010.2" r="4.7"/><circle cx="1464.0" cy="1013.1" r="4.7"/><circle cx="1448.0" cy="1025.6" r="4.7"/><circle cx="1448.0" cy="1031.9" r="4.7"/><circle cx="1478.0" cy="1018.8" r="4.7"/><circle cx="1484.2" cy="1022.9" r="4.7"/><circle cx="1498.4" cy="1018.8" r="4.7"/><circle cx="1495.1" cy="990.0" r="4.7"/><circle cx="1495.1" cy="998.1" r="4.7"/><circle cx="1518.9" cy="988.8" r="4.7"/><circle cx="1521.8" cy="965.9" r="4.7"/><circle cx="1536.5" cy="973.8" r="4.7"/><circle cx="1532.0" cy="993.5" r="4.7"/><circle cx="1478.6" cy="1041.0" r="4.7"/><circle cx="1501.1" cy="1044.4" r="4.7"/><circle cx="1518.9" cy="1039.4" r="4.7"/><circle cx="1532.0" cy="1040.0" r="4.7"/><circle cx="1536.5" cy="1045.4" r="4.7"/><circle cx="1549.2" cy="963.1" r="4.7"/><circle cx="1549.2" cy="974.4" r="4.7"/><circle cx="1549.2" cy="974.4" r="4.7"/><circle cx="1549.7" cy="975.0" r="4.7"/><circle cx="1549.2" cy="977.5" r="4.7"/><circle cx="1552.4" cy="985.6" r="4.7"/><circle cx="1548.6" cy="991.2" r="4.7"/><circle cx="1548.6" cy="991.2" r="4.7"/><circle cx="1548.6" cy="998.8" r="4.7"/><circle cx="1548.6" cy="998.8" r="4.7"/><circle cx="1548.6" cy="1005.0" r="4.7"/><circle cx="1548.6" cy="1005.0" r="4.7"/><circle cx="1548.6" cy="1012.5" r="4.7"/><circle cx="1548.6" cy="1012.5" r="4.7"/><circle cx="1549.0" cy="1013.1" r="4.7"/><circle cx="1548.6" cy="1020.0" r="4.7"/><circle cx="1548.6" cy="1020.0" r="4.7"/><circle cx="1549.0" cy="1020.6" r="4.7"/><circle cx="1548.6" cy="1025.0" r="4.7"/><circle cx="1548.6" cy="1025.0" r="4.7"/><circle cx="1549.0" cy="1025.6" r="4.7"/><circle cx="1548.6" cy="1032.5" r="4.7"/><circle cx="1548.6" cy="1032.5" r="4.7"/><circle cx="1549.0" cy="1033.1" r="4.7"/><circle cx="1549.1" cy="1034.7" r="4.7"/><circle cx="1548.6" cy="1038.8" r="4.7"/><circle cx="1548.6" cy="1038.8" r="4.7"/><circle cx="1548.6" cy="1043.8" r="4.7"/><circle cx="1548.6" cy="1043.8" r="4.7"/><circle cx="1556.8" cy="1005.6" r="4.7"/><circle cx="1556.8" cy="1005.6" r="4.7"/><circle cx="1593.6" cy="963.1" r="4.7"/><circle cx="1621.5" cy="965.9" r="4.7"/><circle cx="1598.0" cy="979.4" r="4.7"/><circle cx="1575.5" cy="983.8" r="4.7"/><circle cx="1575.5" cy="983.8" r="4.7"/><circle cx="1599.2" cy="987.5" r="4.7"/><circle cx="1606.8" cy="987.9" r="4.7"/><circle cx="1594.9" cy="993.1" r="4.7"/><circle cx="1629.2" cy="980.0" r="4.7"/><circle cx="1622.8" cy="992.5" r="4.7"/><circle cx="1622.8" cy="998.1" r="4.7"/><circle cx="1630.5" cy="992.5" r="4.7"/><circle cx="1630.5" cy="1002.5" r="4.7"/><circle cx="1584.2" cy="1007.9" r="4.7"/><circle cx="1609.0" cy="1009.6" r="4.7"/><circle cx="1629.2" cy="1011.2" r="4.7"/><circle cx="1629.2" cy="1018.8" r="4.7"/><circle cx="1629.2" cy="1018.8" r="4.7"/><circle cx="1629.2" cy="1023.8" r="4.7"/><circle cx="1604.2" cy="1025.9" r="4.7"/><circle cx="1595.5" cy="1029.4" r="4.7"/><circle cx="1595.5" cy="1035.0" r="4.7"/><circle cx="1594.9" cy="1043.1" r="4.7"/><circle cx="1604.2" cy="1043.5" r="4.7"/><circle cx="1609.0" cy="1041.0" r="4.7"/><circle cx="1631.1" cy="1036.2" r="4.7"/><circle cx="1631.1" cy="1036.2" r="4.7"/><circle cx="1631.1" cy="1045.0" r="4.7"/><circle cx="1631.1" cy="1045.0" r="4.7"/><circle cx="1658.4" cy="695.0" r="4.7"/><circle cx="1757.4" cy="714.1" r="4.7"/><circle cx="1742.0" cy="799.4" r="4.7"/><circle cx="1927.6" cy="684.4" r="4.7"/><circle cx="1921.1" cy="728.1" r="4.7"/><circle cx="1921.1" cy="762.5" r="4.7"/><circle cx="1921.1" cy="769.4" r="4.7"/><circle cx="1658.4" cy="816.2" r="4.7"/><circle cx="1661.8" cy="824.0" r="4.7"/><circle cx="1658.4" cy="828.1" r="4.7"/><circle cx="1658.4" cy="836.9" r="4.7"/><circle cx="1640.2" cy="834.0" r="4.7"/><circle cx="1640.5" cy="860.6" r="4.7"/><circle cx="1697.6" cy="852.9" r="4.7"/><circle cx="1738.6" cy="859.4" r="4.7"/><circle cx="1921.1" cy="862.2" r="4.7"/><circle cx="1866.4" cy="878.4" r="4.7"/><circle cx="1866.4" cy="893.8" r="4.7"/><circle cx="1929.2" cy="900.0" r="4.7"/><circle cx="1660.2" cy="891.2" r="4.7"/><circle cx="1641.1" cy="897.5" r="4.7"/><circle cx="1641.1" cy="897.5" r="4.7"/><circle cx="1641.1" cy="903.8" r="4.7"/><circle cx="1659.0" cy="907.5" r="4.7"/><circle cx="1658.4" cy="916.6" r="4.7"/><circle cx="1641.5" cy="922.2" r="4.7"/><circle cx="1674.2" cy="927.1" r="4.7"/><circle cx="1694.2" cy="933.1" r="4.7"/><circle cx="1741.8" cy="905.0" r="4.7"/><circle cx="1741.8" cy="910.6" r="4.7"/><circle cx="1748.2" cy="913.1" r="4.7"/><circle cx="1738.6" cy="929.4" r="4.7"/><circle cx="1742.0" cy="934.4" r="4.7"/><circle cx="1779.9" cy="893.1" r="4.7"/><circle cx="1779.9" cy="905.6" r="4.7"/><circle cx="1779.9" cy="940.6" r="4.7"/><circle cx="1866.4" cy="939.0" r="4.7"/><circle cx="1642.0" cy="945.6" r="4.7"/><circle cx="1757.4" cy="949.4" r="4.7"/><circle cx="1641.1" cy="955.6" r="4.7"/><circle cx="1678.4" cy="955.6" r="4.7"/><circle cx="1726.8" cy="963.4" r="4.7"/><circle cx="1748.2" cy="958.8" r="4.7"/><circle cx="1757.4" cy="952.5" r="4.7"/><circle cx="1866.4" cy="963.4" r="4.7"/><circle cx="1927.1" cy="955.4" r="4.7"/><circle cx="1661.5" cy="967.8" r="4.7"/><circle cx="1659.9" cy="972.5" r="4.7"/><circle cx="1659.9" cy="972.5" r="4.7"/><circle cx="1674.2" cy="977.8" r="4.7"/><circle cx="1658.4" cy="983.8" r="4.7"/><circle cx="1690.8" cy="986.5" r="4.7"/><circle cx="1698.6" cy="995.0" r="4.7"/><circle cx="1658.4" cy="991.9" r="4.7"/><circle cx="1641.5" cy="990.6" r="4.7"/><circle cx="1640.5" cy="998.1" r="4.7"/><circle cx="1640.5" cy="1005.0" r="4.7"/><circle cx="1640.5" cy="1005.0" r="4.7"/><circle cx="1640.9" cy="1005.6" r="4.7"/><circle cx="1647.4" cy="1005.6" r="4.7"/><circle cx="1659.0" cy="999.4" r="4.7"/><circle cx="1659.0" cy="999.4" r="4.7"/><circle cx="1661.5" cy="1003.8" r="4.7"/><circle cx="1658.4" cy="1016.5" r="4.7"/><circle cx="1658.4" cy="1016.5" r="4.7"/><circle cx="1642.0" cy="1027.1" r="4.7"/><circle cx="1659.2" cy="1030.6" r="4.7"/><circle cx="1659.2" cy="1030.6" r="4.7"/><circle cx="1659.7" cy="1031.2" r="4.7"/><circle cx="1661.8" cy="1042.8" r="4.7"/><circle cx="1658.6" cy="1045.6" r="4.7"/><circle cx="1690.8" cy="1016.6" r="4.7"/><circle cx="1690.8" cy="1021.9" r="4.7"/><circle cx="1687.6" cy="1033.5" r="4.7"/><circle cx="1691.4" cy="1045.4" r="4.7"/><circle cx="1691.4" cy="1045.4" r="4.7"/><circle cx="1741.8" cy="970.0" r="4.7"/><circle cx="1741.8" cy="973.1" r="4.7"/><circle cx="1741.8" cy="973.1" r="4.7"/><circle cx="1738.4" cy="980.6" r="4.7"/><circle cx="1747.8" cy="979.8" r="4.7"/><circle cx="1738.4" cy="997.2" r="4.7"/><circle cx="1743.0" cy="1002.5" r="4.7"/><circle cx="1743.0" cy="1002.5" r="4.7"/><circle cx="1743.4" cy="1003.1" r="4.7"/><circle cx="1747.8" cy="1000.0" r="4.7"/><circle cx="1748.6" cy="1004.8" r="4.7"/><circle cx="1738.4" cy="1012.5" r="4.7"/><circle cx="1748.2" cy="1026.2" r="4.7"/><circle cx="1741.8" cy="1032.5" r="4.7"/><circle cx="1748.2" cy="1033.5" r="4.7"/><circle cx="1748.2" cy="1033.5" r="4.7"/><circle cx="1748.7" cy="1034.1" r="4.7"/><circle cx="1748.2" cy="1040.0" r="4.7"/><circle cx="1781.8" cy="976.6" r="4.7"/><circle cx="1779.5" cy="1008.1" r="4.7"/><circle cx="1846.1" cy="978.1" r="4.7"/><circle cx="1846.1" cy="1012.5" r="4.7"/><circle cx="1846.1" cy="1041.9" r="4.7"/><circle cx="1865.1" cy="990.6" r="4.7"/><circle cx="1865.1" cy="990.6" r="4.7"/><circle cx="1886.4" cy="988.8" r="4.7"/><circle cx="1866.4" cy="1009.0" r="4.7"/><circle cx="1866.4" cy="1020.0" r="4.7"/><circle cx="1866.4" cy="1023.1" r="4.7"/><circle cx="1897.6" cy="1040.4" r="4.7"/><circle cx="1921.1" cy="988.1" r="4.7"/><circle cx="1921.1" cy="992.5" r="4.7"/><circle cx="1921.1" cy="1005.9" r="4.7"/><circle cx="1922.4" cy="1021.9" r="4.7"/><circle cx="1922.4" cy="1021.9" r="4.7"/><circle cx="1929.2" cy="1021.9" r="4.7"/><circle cx="1922.4" cy="1044.8" r="4.7"/><circle cx="1929.2" cy="1045.4" r="4.7"/><circle cx="1963.9" cy="651.2" r="4.7"/><circle cx="1965.1" cy="719.1" r="4.7"/><circle cx="1965.1" cy="739.0" r="4.7"/><circle cx="1965.1" cy="767.5" r="4.7"/><circle cx="2032.1" cy="684.1" r="4.7"/><circle cx="2032.1" cy="742.2" r="4.7"/><circle cx="2032.1" cy="782.1" r="4.7"/><circle cx="2019.2" cy="788.8" r="4.7"/><circle cx="2035.2" cy="789.8" r="4.7"/><circle cx="2114.5" cy="655.6" r="4.7"/><circle cx="2109.6" cy="727.8" r="4.7"/><circle cx="2223.2" cy="715.0" r="4.7"/><circle cx="2221.1" cy="732.5" r="4.7"/><circle cx="2221.1" cy="797.5" r="4.7"/><circle cx="1965.1" cy="821.6" r="4.7"/><circle cx="1964.0" cy="909.6" r="4.7"/><circle cx="1994.6" cy="932.5" r="4.7"/><circle cx="1993.6" cy="944.4" r="4.7"/><circle cx="2013.2" cy="821.5" r="4.7"/><circle cx="2013.2" cy="830.0" r="4.7"/><circle cx="2034.6" cy="812.2" r="4.7"/><circle cx="2019.2" cy="855.4" r="4.7"/><circle cx="2047.4" cy="850.6" r="4.7"/><circle cx="2033.6" cy="871.9" r="4.7"/><circle cx="2035.2" cy="873.8" r="4.7"/><circle cx="2066.1" cy="894.0" r="4.7"/><circle cx="2035.2" cy="902.1" r="4.7"/><circle cx="2013.2" cy="920.2" r="4.7"/><circle cx="2032.4" cy="945.0" r="4.7"/><circle cx="2032.4" cy="945.0" r="4.7"/><circle cx="2085.2" cy="825.6" r="4.7"/><circle cx="2085.8" cy="834.0" r="4.7"/><circle cx="2079.9" cy="903.4" r="4.7"/><circle cx="2085.8" cy="905.2" r="4.7"/><circle cx="2094.5" cy="905.2" r="4.7"/><circle cx="2144.2" cy="911.5" r="4.7"/><circle cx="2085.2" cy="927.8" r="4.7"/><circle cx="2085.2" cy="935.6" r="4.7"/><circle cx="2085.8" cy="939.0" r="4.7"/><circle cx="2114.5" cy="925.9" r="4.7"/><circle cx="2141.1" cy="935.9" r="4.7"/><circle cx="2126.1" cy="949.4" r="4.7"/><circle cx="2212.6" cy="812.2" r="4.7"/><circle cx="2218.6" cy="837.5" r="4.7"/><circle cx="2212.4" cy="844.6" r="4.7"/><circle cx="2224.2" cy="890.0" r="4.7"/><circle cx="2217.4" cy="897.9" r="4.7"/><circle cx="2224.9" cy="896.9" r="4.7"/><circle cx="2212.4" cy="923.8" r="4.7"/><circle cx="2215.2" cy="928.1" r="4.7"/><circle cx="2211.1" cy="938.5" r="4.7"/><circle cx="2223.6" cy="938.1" r="4.7"/><circle cx="2218.0" cy="943.8" r="4.7"/><circle cx="2218.0" cy="943.8" r="4.7"/><circle cx="2223.6" cy="945.6" r="4.7"/><circle cx="1965.1" cy="955.2" r="4.7"/><circle cx="1994.2" cy="955.2" r="4.7"/><circle cx="1994.2" cy="986.2" r="4.7"/><circle cx="1994.2" cy="986.2" r="4.7"/><circle cx="1963.4" cy="993.8" r="4.7"/><circle cx="1962.6" cy="997.5" r="4.7"/><circle cx="1994.2" cy="1005.2" r="4.7"/><circle cx="1963.4" cy="1008.1" r="4.7"/><circle cx="1963.4" cy="1008.1" r="4.7"/><circle cx="1963.4" cy="1013.8" r="4.7"/><circle cx="1963.4" cy="1013.8" r="4.7"/><circle cx="1963.4" cy="1016.2" r="4.7"/><circle cx="1976.5" cy="1021.5" r="4.7"/><circle cx="1993.6" cy="1021.2" r="4.7"/><circle cx="1993.6" cy="1021.2" r="4.7"/><circle cx="1994.0" cy="1021.9" r="4.7"/><circle cx="2002.1" cy="1024.4" r="4.7"/><circle cx="1964.2" cy="1034.4" r="4.7"/><circle cx="1964.2" cy="1034.4" r="4.7"/><circle cx="1964.7" cy="1035.0" r="4.7"/><circle cx="1964.0" cy="1043.5" r="4.7"/><circle cx="1964.0" cy="1043.5" r="4.7"/><circle cx="1994.2" cy="1040.6" r="4.7"/><circle cx="2001.4" cy="1036.6" r="4.7"/><circle cx="2069.6" cy="963.8" r="4.7"/><circle cx="2079.6" cy="969.0" r="4.7"/><circle cx="2069.6" cy="979.8" r="4.7"/><circle cx="2050.5" cy="984.4" r="4.7"/><circle cx="2066.1" cy="994.0" r="4.7"/><circle cx="2055.5" cy="997.9" r="4.7"/><circle cx="2032.1" cy="992.5" r="4.7"/><circle cx="2034.9" cy="998.1" r="4.7"/><circle cx="2034.9" cy="1002.5" r="4.7"/><circle cx="2034.9" cy="1002.5" r="4.7"/><circle cx="2035.3" cy="1003.1" r="4.7"/><circle cx="2028.2" cy="1014.0" r="4.7"/><circle cx="2020.2" cy="1019.6" r="4.7"/><circle cx="2035.2" cy="1019.4" r="4.7"/><circle cx="2019.5" cy="1031.5" r="4.7"/><circle cx="2013.6" cy="1037.5" r="4.7"/><circle cx="2013.6" cy="1043.8" r="4.7"/><circle cx="2019.5" cy="1045.0" r="4.7"/><circle cx="2035.2" cy="1033.1" r="4.7"/><circle cx="2035.2" cy="1036.9" r="4.7"/><circle cx="2050.5" cy="1030.0" r="4.7"/><circle cx="2050.5" cy="1034.4" r="4.7"/><circle cx="2064.0" cy="1045.4" r="4.7"/><circle cx="2094.6" cy="963.1" r="4.7"/><circle cx="2086.1" cy="972.8" r="4.7"/><circle cx="2094.2" cy="986.9" r="4.7"/><circle cx="2085.8" cy="1004.4" r="4.7"/><circle cx="2086.1" cy="1015.6" r="4.7"/><circle cx="2086.1" cy="1015.6" r="4.7"/><circle cx="2086.5" cy="1016.2" r="4.7"/><circle cx="2087.0" cy="1025.0" r="4.7"/><circle cx="2085.5" cy="1038.8" r="4.7"/><circle cx="2085.5" cy="1038.8" r="4.7"/><circle cx="2085.9" cy="1039.3" r="4.7"/><circle cx="2085.5" cy="1042.5" r="4.7"/><circle cx="2085.5" cy="1042.5" r="4.7"/><circle cx="2126.1" cy="952.5" r="4.7"/><circle cx="2131.8" cy="954.6" r="4.7"/><circle cx="2131.8" cy="954.6" r="4.7"/><circle cx="2116.1" cy="970.6" r="4.7"/><circle cx="2120.5" cy="972.5" r="4.7"/><circle cx="2114.9" cy="980.6" r="4.7"/><circle cx="2108.4" cy="985.0" r="4.7"/><circle cx="2109.2" cy="991.2" r="4.7"/><circle cx="2131.5" cy="988.1" r="4.7"/><circle cx="2114.9" cy="1005.2" r="4.7"/><circle cx="2144.2" cy="1000.0" r="4.7"/><circle cx="2144.2" cy="1000.0" r="4.7"/><circle cx="2118.6" cy="1028.4" r="4.7"/><circle cx="2109.2" cy="1033.1" r="4.7"/><circle cx="2109.2" cy="1033.1" r="4.7"/><circle cx="2116.5" cy="1037.9" r="4.7"/><circle cx="2108.0" cy="1043.1" r="4.7"/><circle cx="2114.9" cy="1046.0" r="4.7"/><circle cx="2144.2" cy="1044.4" r="4.7"/><circle cx="2144.2" cy="1044.4" r="4.7"/><circle cx="2144.7" cy="1045.0" r="4.7"/><circle cx="2195.2" cy="996.9" r="4.7"/><circle cx="2186.1" cy="1007.5" r="4.7"/><circle cx="2196.1" cy="1009.6" r="4.7"/><circle cx="2195.2" cy="1043.8" r="4.7"/><circle cx="2209.9" cy="1020.6" r="4.7"/><circle cx="2208.6" cy="1030.0" r="4.7"/><circle cx="2208.6" cy="1041.9" r="4.7"/><circle cx="2208.6" cy="1041.9" r="4.7"/><circle cx="2214.2" cy="1041.9" r="4.7"/><circle cx="2214.2" cy="1041.9" r="4.7"/><circle cx="2221.8" cy="1043.1" r="4.7"/><circle cx="2223.6" cy="1023.8" r="4.7"/><circle cx="2223.6" cy="1023.8" r="4.7"/><circle cx="2219.2" cy="1026.9" r="4.7"/><circle cx="2223.6" cy="1033.8" r="4.7"/><circle cx="2210.5" cy="1003.8" r="4.7"/><circle cx="2210.5" cy="1003.8" r="4.7"/><circle cx="2214.2" cy="1007.5" r="4.7"/><circle cx="2217.4" cy="954.4" r="4.7"/><circle cx="2215.5" cy="961.9" r="4.7"/><circle cx="2214.9" cy="978.8" r="4.7"/><circle cx="2220.5" cy="993.8" r="4.7"/><circle cx="2220.5" cy="993.8" r="4.7"/><circle cx="2249.6" cy="644.2" r="4.7"/><circle cx="2249.6" cy="653.3" r="4.7"/><circle cx="2249.3" cy="684.2" r="4.7"/><circle cx="2252.1" cy="686.2" r="4.7"/><circle cx="2285.2" cy="702.9" r="4.7"/><circle cx="2252.1" cy="740.8" r="4.7"/><circle cx="2252.1" cy="750.4" r="4.7"/><circle cx="2252.1" cy="750.4" r="4.7"/><circle cx="2250.4" cy="757.9" r="4.7"/><circle cx="2252.1" cy="758.8" r="4.7"/><circle cx="2252.1" cy="764.2" r="4.7"/><circle cx="2247.1" cy="780.8" r="4.7"/><circle cx="2252.1" cy="803.3" r="4.7"/><circle cx="2252.1" cy="810.0" r="4.7"/><circle cx="2262.9" cy="807.9" r="4.7"/><circle cx="2240.2" cy="814.8" r="4.7"/><circle cx="2331.7" cy="823.3" r="4.7"/><circle cx="2331.7" cy="823.3" r="4.7"/><circle cx="2372.9" cy="747.7" r="4.7"/><circle cx="2374.6" cy="806.7" r="4.7"/><circle cx="2366.7" cy="815.0" r="4.7"/><circle cx="2366.7" cy="830.6" r="4.7"/><circle cx="2252.1" cy="847.5" r="4.7"/><circle cx="2252.1" cy="847.5" r="4.7"/><circle cx="2262.5" cy="840.4" r="4.7"/><circle cx="2252.1" cy="862.5" r="4.7"/><circle cx="2252.1" cy="870.0" r="4.7"/><circle cx="2252.1" cy="872.9" r="4.7"/><circle cx="2252.1" cy="875.4" r="4.7"/><circle cx="2247.3" cy="883.2" r="4.7"/><circle cx="2247.3" cy="883.2" r="4.7"/><circle cx="2247.7" cy="883.8" r="4.7"/><circle cx="2252.1" cy="892.5" r="4.7"/><circle cx="2252.1" cy="915.0" r="4.7"/><circle cx="2252.1" cy="917.5" r="4.7"/><circle cx="2252.1" cy="917.5" r="4.7"/><circle cx="2252.5" cy="918.1" r="4.7"/><circle cx="2250.0" cy="928.3" r="4.7"/><circle cx="2250.0" cy="928.3" r="4.7"/><circle cx="2287.1" cy="902.5" r="4.7"/><circle cx="2291.2" cy="905.0" r="4.7"/><circle cx="2291.2" cy="907.5" r="4.7"/><circle cx="2301.2" cy="926.7" r="4.7"/><circle cx="2329.4" cy="884.8" r="4.7"/><circle cx="2331.7" cy="904.8" r="4.7"/><circle cx="2331.7" cy="915.0" r="4.7"/><circle cx="2330.2" cy="921.2" r="4.7"/><circle cx="2372.9" cy="857.5" r="4.7"/><circle cx="2372.9" cy="860.4" r="4.7"/><circle cx="2372.9" cy="860.4" r="4.7"/><circle cx="2372.9" cy="878.2" r="4.7"/><circle cx="2372.9" cy="908.3" r="4.7"/><circle cx="2249.2" cy="929.6" r="4.7"/><circle cx="2251.7" cy="930.8" r="4.7"/><circle cx="2259.6" cy="933.8" r="4.7"/><circle cx="2261.2" cy="935.4" r="4.7"/><circle cx="2243.3" cy="945.0" r="4.7"/><circle cx="2252.1" cy="945.0" r="4.7"/><circle cx="2252.1" cy="945.0" r="4.7"/><circle cx="2252.1" cy="947.1" r="4.7"/><circle cx="2258.3" cy="954.2" r="4.7"/><circle cx="2250.0" cy="961.2" r="4.7"/><circle cx="2262.9" cy="962.9" r="4.7"/><circle cx="2247.5" cy="966.7" r="4.7"/><circle cx="2247.5" cy="966.7" r="4.7"/><circle cx="2247.9" cy="967.3" r="4.7"/><circle cx="2247.9" cy="971.7" r="4.7"/><circle cx="2247.9" cy="971.7" r="4.7"/><circle cx="2250.0" cy="976.7" r="4.7"/><circle cx="2259.2" cy="977.5" r="4.7"/><circle cx="2246.2" cy="985.0" r="4.7"/><circle cx="2246.2" cy="985.0" r="4.7"/><circle cx="2250.0" cy="990.8" r="4.7"/><circle cx="2239.2" cy="998.8" r="4.7"/><circle cx="2244.2" cy="1001.2" r="4.7"/><circle cx="2252.1" cy="999.2" r="4.7"/><circle cx="2252.1" cy="999.2" r="4.7"/><circle cx="2252.1" cy="1004.2" r="4.7"/><circle cx="2252.1" cy="1004.2" r="4.7"/><circle cx="2252.1" cy="1008.3" r="4.7"/><circle cx="2252.1" cy="1008.3" r="4.7"/><circle cx="2258.3" cy="1004.2" r="4.7"/><circle cx="2300.0" cy="941.2" r="4.7"/><circle cx="2301.2" cy="950.8" r="4.7"/><circle cx="2293.3" cy="960.8" r="4.7"/><circle cx="2283.3" cy="979.2" r="4.7"/><circle cx="2285.4" cy="1004.6" r="4.7"/><circle cx="2331.7" cy="947.5" r="4.7"/><circle cx="2331.7" cy="970.0" r="4.7"/><circle cx="2333.3" cy="980.0" r="4.7"/><circle cx="2331.7" cy="999.2" r="4.7"/><circle cx="2329.6" cy="1006.7" r="4.7"/><circle cx="2340.8" cy="1011.7" r="4.7"/><circle cx="2340.8" cy="1011.7" r="4.7"/><circle cx="2340.0" cy="995.0" r="4.7"/><circle cx="2355.8" cy="931.2" r="4.7"/><circle cx="2355.8" cy="1011.7" r="4.7"/><circle cx="2372.5" cy="952.1" r="4.7"/><circle cx="2372.5" cy="969.2" r="4.7"/><circle cx="2372.5" cy="980.8" r="4.7"/><circle cx="2371.7" cy="985.8" r="4.7"/><circle cx="2371.7" cy="992.5" r="4.7"/><circle cx="2371.7" cy="992.5" r="4.7"/><circle cx="2372.5" cy="1004.6" r="4.7"/><circle cx="2371.2" cy="1016.7" r="4.7"/><circle cx="2371.2" cy="1016.7" r="4.7"/><circle cx="2273.3" cy="1016.7" r="4.7"/><circle cx="2237.5" cy="1028.3" r="4.7"/><circle cx="2237.5" cy="1041.7" r="4.7"/><circle cx="2252.1" cy="1016.7" r="4.7"/><circle cx="2252.1" cy="1016.7" r="4.7"/><circle cx="2252.1" cy="1021.7" r="4.7"/><circle cx="2252.1" cy="1021.7" r="4.7"/><circle cx="2252.1" cy="1029.2" r="4.7"/><circle cx="2252.1" cy="1029.2" r="4.7"/><circle cx="2252.5" cy="1029.8" r="4.7"/><circle cx="2252.6" cy="1031.4" r="4.7"/><circle cx="2252.1" cy="1041.7" r="4.7"/><circle cx="2252.1" cy="1041.7" r="4.7"/><circle cx="2252.1" cy="1046.7" r="4.7"/><circle cx="2263.8" cy="1035.0" r="4.7"/><circle cx="2291.2" cy="1023.8" r="4.7"/><circle cx="2300.4" cy="1026.7" r="4.7"/><circle cx="2300.4" cy="1028.8" r="4.7"/><circle cx="2300.4" cy="1031.7" r="4.7"/><circle cx="2291.2" cy="1033.8" r="4.7"/><circle cx="2292.9" cy="1038.3" r="4.7"/><circle cx="2292.9" cy="1038.3" r="4.7"/><circle cx="2285.4" cy="1040.8" r="4.7"/><circle cx="2287.5" cy="1045.0" r="4.7"/><circle cx="2300.4" cy="1045.4" r="4.7"/><circle cx="2325.8" cy="1025.0" r="4.7"/><circle cx="2329.6" cy="1027.5" r="4.7"/><circle cx="2329.6" cy="1027.5" r="4.7"/><circle cx="2334.2" cy="1029.2" r="4.7"/><circle cx="2322.1" cy="1039.6" r="4.7"/><circle cx="2331.2" cy="1041.7" r="4.7"/><circle cx="2331.2" cy="1041.7" r="4.7"/><circle cx="2331.7" cy="1042.3" r="4.7"/><circle cx="2338.3" cy="1042.9" r="4.7"/><circle cx="2329.2" cy="1045.8" r="4.7"/><circle cx="2365.4" cy="1026.7" r="4.7"/><circle cx="2372.5" cy="1029.2" r="4.7"/><circle cx="2372.5" cy="1029.2" r="4.7"/><circle cx="2372.9" cy="1038.3" r="4.7"/><circle cx="2372.9" cy="1038.3" r="4.7"/><circle cx="2373.3" cy="1038.9" r="4.7"/><circle cx="2370.8" cy="1042.5" r="4.7"/><circle cx="2358.3" cy="1045.8" r="4.7"/><circle cx="2380.0" cy="1025.0" r="4.7"/><circle cx="2380.0" cy="1028.3" r="4.7"/><circle cx="988.6" cy="1026.0" r="4.7"/><circle cx="988.6" cy="1026.0" r="4.7"/><circle cx="989.0" cy="1026.6" r="4.7"/><circle cx="988.0" cy="1032.0" r="4.7"/><circle cx="988.0" cy="1032.0" r="4.7"/><circle cx="988.4" cy="1032.6" r="4.7"/><circle cx="988.0" cy="1038.0" r="4.7"/><circle cx="988.0" cy="1038.0" r="4.7"/><circle cx="988.4" cy="1038.6" r="4.7"/><circle cx="988.6" cy="1044.0" r="4.7"/><circle cx="988.6" cy="1044.0" r="4.7"/><circle cx="988.6" cy="978.0" r="4.7"/><circle cx="988.6" cy="978.0" r="4.7"/><circle cx="989.0" cy="978.6" r="4.7"/><circle cx="988.6" cy="984.0" r="4.7"/><circle cx="988.6" cy="984.0" r="4.7"/><circle cx="1548.6" cy="1008.0" r="4.7"/><circle cx="1548.6" cy="1008.0" r="4.7"/><circle cx="1548.6" cy="1016.0" r="4.7"/><circle cx="1548.6" cy="1016.0" r="4.7"/><circle cx="1548.6" cy="1028.0" r="4.7"/><circle cx="1548.6" cy="1028.0" r="4.7"/><circle cx="1548.6" cy="1036.0" r="4.7"/><circle cx="1548.6" cy="1036.0" r="4.7"/><circle cx="1548.6" cy="1042.0" r="4.7"/><circle cx="2252.1" cy="1020.0" r="4.7"/><circle cx="2252.1" cy="1020.0" r="4.7"/><circle cx="2252.1" cy="1026.0" r="4.7"/><circle cx="2252.1" cy="1026.0" r="4.7"/><circle cx="2252.5" cy="1026.6" r="4.7"/><circle cx="2252.1" cy="1031.0" r="4.7"/><circle cx="2252.1" cy="1031.0" r="4.7"/><circle cx="2252.5" cy="1031.6" r="4.7"/><circle cx="2252.1" cy="1036.0" r="4.7"/><circle cx="2252.1" cy="1036.0" r="4.7"/><circle cx="2252.1" cy="1042.0" r="4.7"/><circle cx="2252.1" cy="1042.0" r="4.7"/><circle cx="2212.5" cy="1040.8" r="4.7"/><circle cx="2212.5" cy="1040.8" r="4.7"/><circle cx="2210.5" cy="1005.0" r="4.7"/><circle cx="2210.5" cy="1005.0" r="4.7"/><circle cx="2216.0" cy="1009.0" r="4.7"/></g>
<ellipse cx="2252.2" cy="1029.5" rx="5.3" ry="6.3" fill="rgba(92,92,92,0.8)"/>
<ellipse cx="2252.2" cy="1017" rx="5.2" ry="5.5" fill="rgba(100,70,70,0.3)"/>
<text x="2251.5" y="996" text-anchor="middle" font-size="37" fill="#000">rs148624633</text>
<rect x="129" y="18" width="8" height="1101" fill="#000"/>
<rect x="129" y="1111" width="2252.5" height="8" fill="#000"/>
<rect x="109.4" y="1113.5" width="24" height="3" fill="#262626"/>
<text x="101.2" y="1125.95" text-anchor="end" font-size="30" fill="#262626" textLength="39.5" lengthAdjust="spacingAndGlyphs">0.0</text>
<rect x="109.4" y="839.3" width="24" height="3" fill="#262626"/>
<text x="101.2" y="851.75" text-anchor="end" font-size="30" fill="#262626" textLength="39.5" lengthAdjust="spacingAndGlyphs">0.2</text>
<rect x="109.4" y="565.0" width="24" height="3" fill="#262626"/>
<text x="101.2" y="577.45" text-anchor="end" font-size="30" fill="#262626" textLength="39.5" lengthAdjust="spacingAndGlyphs">0.4</text>
<rect x="109.4" y="290.8" width="24" height="3" fill="#262626"/>
<text x="101.2" y="303.25" text-anchor="end" font-size="30" fill="#262626" textLength="39.5" lengthAdjust="spacingAndGlyphs">0.6</text>
<rect x="109.4" y="16.5" width="24" height="3" fill="#262626"/>
<text x="101.2" y="28.95" text-anchor="end" font-size="30" fill="#262626" textLength="39.5" lengthAdjust="spacingAndGlyphs">0.8</text>
<rect x="131.25" y="1115" width="3.5" height="23.5" fill="#262626"/>
<rect x="326.25" y="1115" width="3.5" height="23.5" fill="#262626"/>
<rect x="515.25" y="1115" width="3.5" height="23.5" fill="#262626"/>
<rect x="670.25" y="1115" width="3.5" height="23.5" fill="#262626"/>
<rect x="819.25" y="1115" width="3.5" height="23.5" fill="#262626"/>
<rect x="961.25" y="1115" width="3.5" height="23.5" fill="#262626"/>
<rect x="1095.25" y="1115" width="3.5" height="23.5" fill="#262626"/>
<rect x="1220.25" y="1115" width="3.5" height="23.5" fill="#262626"/>
<rect x="1333.25" y="1115" width="3.5" height="23.5" fill="#262626"/>
<rect x="1441.25" y="1115" width="3.5" height="23.5" fill="#262626"/>
<rect x="1546.25" y="1115" width="3.5" height="23.5" fill="#262626"/>
<rect x="1652.25" y="1115" width="3.5" height="23.5" fill="#262626"/>
<rect x="1756.25" y="1115" width="3.5" height="23.5" fill="#262626"/>
<rect x="1845.25" y="1115" width="3.5" height="23.5" fill="#262626"/>
<rect x="1929.25" y="1115" width="3.5" height="23.5" fill="#262626"/>
<rect x="2009.25" y="1115" width="3.5" height="23.5" fill="#262626"/>
<rect x="2080.25" y="1115" width="3.5" height="23.5" fill="#262626"/>
<rect x="2145.05" y="1115" width="3.5" height="23.5" fill="#262626"/>
<rect x="2208.25" y="1115" width="3.5" height="23.5" fill="#262626"/>
<rect x="2253.05" y="1115" width="3.5" height="23.5" fill="#262626"/>
<rect x="2304.25" y="1115" width="3.5" height="23.5" fill="#262626"/>
<rect x="2340.25" y="1115" width="3.5" height="23.5" fill="#262626"/>
<text x="1257.2" y="1174.8" text-anchor="middle" font-size="37.8" fill="#000" textLength="238" lengthAdjust="spacingAndGlyphs">Chromosomes</text>
<text transform="translate(44.3,566.2) rotate(-90)" text-anchor="middle" font-size="37.3" fill="#000" textLength="136.5" lengthAdjust="spacingAndGlyphs">site.FST</text>
</svg>
</body></html>
